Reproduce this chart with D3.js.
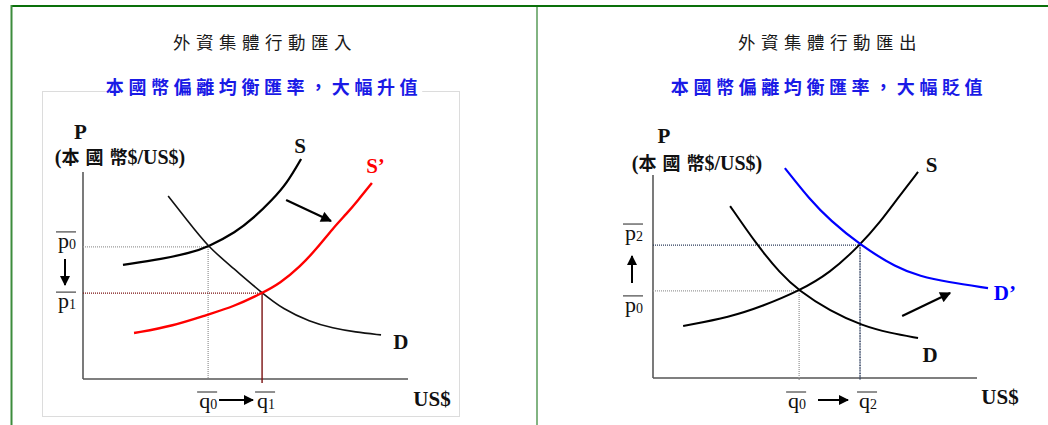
<!DOCTYPE html>
<html>
<head>
<meta charset="utf-8">
<script src="https://cdn.jsdelivr.net/npm/d3@7"></script>
<style>
  body { margin: 0; background: #fff; }
  svg { display: block; }
</style>
</head>
<body>
<div id="chart"></div>
<script>
// curve points, in axis units (0..100 on both axes)
const leftS   = [[12.3,55.1],[24.6,58.0],[32.9,60.9],[38.5,63.8],[47.1,71.0],[52.3,77.5],[58.2,86.5],[62.8,94.7],[67.1,106.3]];
const leftD   = [[26.2,88.4],[32.0,76.8],[38.5,63.8],[46.2,53.6],[55.1,41.5],[61.5,33.8],[69.8,27.7],[76.9,24.5],[83.7,22.7],[91.7,21.3]];
const leftS2  = [[15.7,22.2],[27.7,25.6],[38.5,31.2],[46.2,34.9],[55.1,41.5],[60.6,46.2],[66.8,54.3],[72.0,63.1],[76.9,72.8],[81.2,80.0],[84.3,85.7],[88.9,94.7]];
const rightS  = [[9.3,25.6],[23.8,30.0],[34.0,35.5],[45.1,42.9],[54.6,51.7],[63.9,65.5],[70.1,76.8],[75.6,88.7],[81.8,101.5]];
const rightD  = [[23.8,84.7],[32.1,65.5],[39.2,51.7],[45.1,42.9],[54.6,33.0],[64.8,25.6],[73.1,22.2],[81.8,19.7]];
const rightD2 = [[40.7,103.4],[48.5,87.7],[54.6,77.8],[63.9,65.5],[75.3,54.2],[82.4,50.2],[90.7,47.3],[103.4,44.3]];

// equilibrium points [q, p]
const leftEq0  = [38.5, 63.8];
const leftEq1  = [55.1, 41.5];
const rightEq0 = [45.1, 42.9];
const rightEq2 = [63.9, 65.5];

const titles    = ["外資集體行動匯入", "外資集體行動匯出"];
const subtitles = ["本國幣偏離均衡匯率，大幅升值", "本國幣偏離均衡匯率，大幅貶值"];

const width = 1048, height = 425;
const serif = "'Liberation Serif', 'DejaVu Serif', serif";
const cjk = "'Noto Sans CJK TC', 'Noto Sans CJK SC', sans-serif";

const svg = d3.select("#chart").append("svg")
    .attr("width", width)
    .attr("height", height);

svg.append("defs").append("marker")
    .attr("id", "head")
    .attr("viewBox", "0 0 10 10")
    .attr("refX", 9).attr("refY", 5)
    .attr("markerWidth", 5.5).attr("markerHeight", 5)
    .attr("orient", "auto")
    .attr("markerUnits", "strokeWidth")
  .append("path")
    .attr("d", "M0,0L10,5L0,10Z")
    .attr("fill", "#000");

// frame
svg.append("line").attr("x1", 11).attr("x2", width).attr("y1", 6).attr("y2", 6)
    .attr("stroke", "#0a700a").attr("stroke-width", 2.2);
svg.append("line").attr("x1", 11.5).attr("x2", 11.5).attr("y1", 5).attr("y2", height)
    .attr("stroke", "#3c8c3c").attr("stroke-width", 2);
svg.append("line").attr("x1", 537).attr("x2", 537).attr("y1", 7).attr("y2", height)
    .attr("stroke", "#82b482").attr("stroke-width", 2);

// gray picture box on left
svg.append("rect").attr("x", 42.5).attr("y", 91.5).attr("width", 417).attr("height", 325)
    .attr("fill", "none").attr("stroke", "#dcdcdc");

function headings(cx, i) {
    svg.append("text")
        .attr("x", cx + 3).attr("y", 49)
        .attr("text-anchor", "middle")
        .style("font-family", cjk).style("font-size", "17.5px")
        .style("letter-spacing", "5.5px").attr("fill", "#1a1a1a")
        .text(titles[i]);
    const bg = svg.append("rect").attr("fill", "#fff");
    const sub = svg.append("text")
        .attr("x", cx + 2).attr("y", 94)
        .attr("text-anchor", "middle")
        .style("font-family", cjk).style("font-size", "18px").style("font-weight", "bold")
        .style("letter-spacing", "4.6px").attr("fill", "#1a1ae6")
        .text(subtitles[i]);
    const bb = sub.node().getBBox();
    bg.attr("x", bb.x).attr("y", bb.y + 2).attr("width", bb.width).attr("height", bb.height - 4);
}
headings(262, 0);
headings(827, 1);

function overLabel(g, letter, sub, x, baseline) {
    const t = g.append("text")
        .attr("x", x).attr("y", baseline)
        .style("font-family", serif).style("font-size", "22px").attr("fill", "#111");
    t.append("tspan").text(letter);
    t.append("tspan").attr("dy", 1).style("font-size", "14px").text(sub);
    g.append("line")
        .attr("x1", x - 2).attr("x2", x + 18)
        .attr("y1", baseline - 16).attr("y2", baseline - 16)
        .attr("stroke", "#222").attr("stroke-width", 1);
}

function boldText(g, txt, x, y, color, size) {
    g.append("text").attr("x", x).attr("y", y)
        .attr("text-anchor", "middle")
        .style("font-family", serif).style("font-weight", "bold")
        .style("font-size", (size || 21) + "px")
        .attr("fill", color || "#111").text(txt);
}

function drawPanel(cfg) {
    const x = d3.scaleLinear().domain([0, 100]).range(cfg.xRange);
    const y = d3.scaleLinear().domain([0, 100]).range(cfg.yRange);
    const g = svg.append("g");
    const line = d3.line().x(d => x(d[0])).y(d => y(d[1])).curve(d3.curveBasis);

    // axes
    g.append("line").attr("x1", x(0)).attr("x2", x(0)).attr("y1", y(0)).attr("y2", y(100))
        .attr("stroke", "#222").attr("stroke-width", 1.2);
    g.append("line").attr("x1", x(0)).attr("x2", x(100)).attr("y1", y(0)).attr("y2", y(0))
        .attr("stroke", "#555").attr("stroke-width", 1.6);

    // guide lines
    cfg.guides.forEach(gd => {
        g.append("line").attr("x1", x(0)).attr("x2", x(gd.eq[0]))
            .attr("y1", y(gd.eq[1])).attr("y2", y(gd.eq[1]))
            .attr("stroke", gd.color).attr("stroke-width", 1.3).attr("stroke-dasharray", "1,1");
        g.append("line").attr("x1", x(gd.eq[0])).attr("x2", x(gd.eq[0]))
            .attr("y1", y(gd.eq[1])).attr("y2", y(0) + gd.below)
            .attr("stroke", gd.color).attr("stroke-width", gd.vw)
            .attr("stroke-dasharray", gd.vdash);
    });

    // curves
    cfg.curves.forEach(c => {
        g.append("path").datum(c.data).attr("d", line)
            .attr("fill", "none").attr("stroke", c.color).attr("stroke-width", c.w);
        boldText(g, c.label, x(c.at[0]), y(c.at[1]), c.labelColor);
    });

    // shift arrow
    g.append("line")
        .attr("x1", x(cfg.shift[0][0])).attr("y1", y(cfg.shift[0][1]))
        .attr("x2", x(cfg.shift[1][0])).attr("y2", y(cfg.shift[1][1]))
        .attr("stroke", "#000").attr("stroke-width", 2.2).attr("marker-end", "url(#head)");

    // axis titles
    boldText(g, "P", cfg.pLabel[0], cfg.pLabel[1], "#111", 21);
    const u = g.append("text").attr("x", cfg.unitLabel[0]).attr("y", cfg.unitLabel[1])
        .attr("text-anchor", "middle")
        .style("font-family", serif).style("font-weight", "bold")
        .style("font-size", "20px").attr("fill", "#111");
    u.append("tspan").text("(");
    u.append("tspan").style("font-family", cjk).style("font-size", "18px")
        .style("letter-spacing", "6px").text("本國");
    u.append("tspan").style("font-family", cjk).style("font-size", "18px").text("幣");
    u.append("tspan").text("$/US$)");
    boldText(g, "US$", cfg.usLabel[0], cfg.usLabel[1], "#111", 21);

    // price labels
    cfg.pLabels.forEach(pl => overLabel(g, "p", pl.sub, cfg.pLabelX, y(pl.p) + pl.dy));
    const pa = cfg.pArrow;
    g.append("line").attr("x1", cfg.pLabelX + 7).attr("x2", cfg.pLabelX + 7)
        .attr("y1", pa[0]).attr("y2", pa[1])
        .attr("stroke", "#000").attr("stroke-width", 2).attr("marker-end", "url(#head)");

    // quantity labels
    cfg.qLabels.forEach(ql => overLabel(g, "q", ql.sub, x(ql.q) - 8 + ql.dx, 408));
    g.append("line").attr("x1", cfg.qArrow[0]).attr("x2", cfg.qArrow[1])
        .attr("y1", 400).attr("y2", 400)
        .attr("stroke", "#000").attr("stroke-width", 2).attr("marker-end", "url(#head)");
}

drawPanel({
    xRange: [83, 408], yRange: [379, 172],
    guides: [
        { eq: leftEq0, color: "#9a9a9a", vw: 1.3, vdash: "1,1", below: 0 },
        { eq: leftEq1, color: "#7a1010", vw: 1.4, vdash: null, below: 4 }
    ],
    curves: [
        { data: leftS,  color: "#000",    w: 2.3, label: "S",  at: [66.8, 109.2], labelColor: "#111" },
        { data: leftD,  color: "#111",    w: 1.6, label: "D",  at: [97.8, 14.5], labelColor: "#111" },
        { data: leftS2, color: "#ff0000", w: 2.4, label: "S’", at: [90.0, 99.5], labelColor: "#ff0000" }
    ],
    shift: [[62.5, 86.5], [76.3, 76.3]],
    pLabel: [80.5, 139], unitLabel: [120, 164], usLabel: [432, 406],
    pLabelX: 58,
    pLabels: [{ p: leftEq0[1], sub: "0", dy: 1 }, { p: leftEq1[1], sub: "1", dy: 15 }],
    pArrow: [259, 285],
    qLabels: [{ q: leftEq0[0], sub: "0", dx: -1 }, { q: leftEq1[0], sub: "1", dx: 3 }],
    qArrow: [219, 253]
});

drawPanel({
    xRange: [653, 977], yRange: [378, 175],
    guides: [
        { eq: rightEq0, color: "#9a9a9a", vw: 1.3, vdash: "1,1", below: 3 },
        { eq: rightEq2, color: "#2a3a5a", vw: 1.5, vdash: "1,0.6", below: 2 }
    ],
    curves: [
        { data: rightS,  color: "#000",    w: 2.0, label: "S",  at: [86.0, 101.5], labelColor: "#111" },
        { data: rightD,  color: "#000",    w: 2.0, label: "D",  at: [85.5, 7.9], labelColor: "#111" },
        { data: rightD2, color: "#0000ff", w: 2.2, label: "D’", at: [108.6, 38.4], labelColor: "#0000ff" }
    ],
    shift: [[76.9, 30.5], [91.7, 41.9]],
    pLabel: [664, 143], unitLabel: [697, 170], usLabel: [1000, 404],
    pLabelX: 625,
    pLabels: [{ p: rightEq2[1], sub: "2", dy: -5 }, { p: rightEq0[1], sub: "0", dy: 21 }],
    pArrow: [283, 256],
    qLabels: [{ q: rightEq0[0], sub: "0", dx: -3 }, { q: rightEq2[0], sub: "2", dx: 7 }],
    qArrow: [818, 848]
});
</script>
</body>
</html>
